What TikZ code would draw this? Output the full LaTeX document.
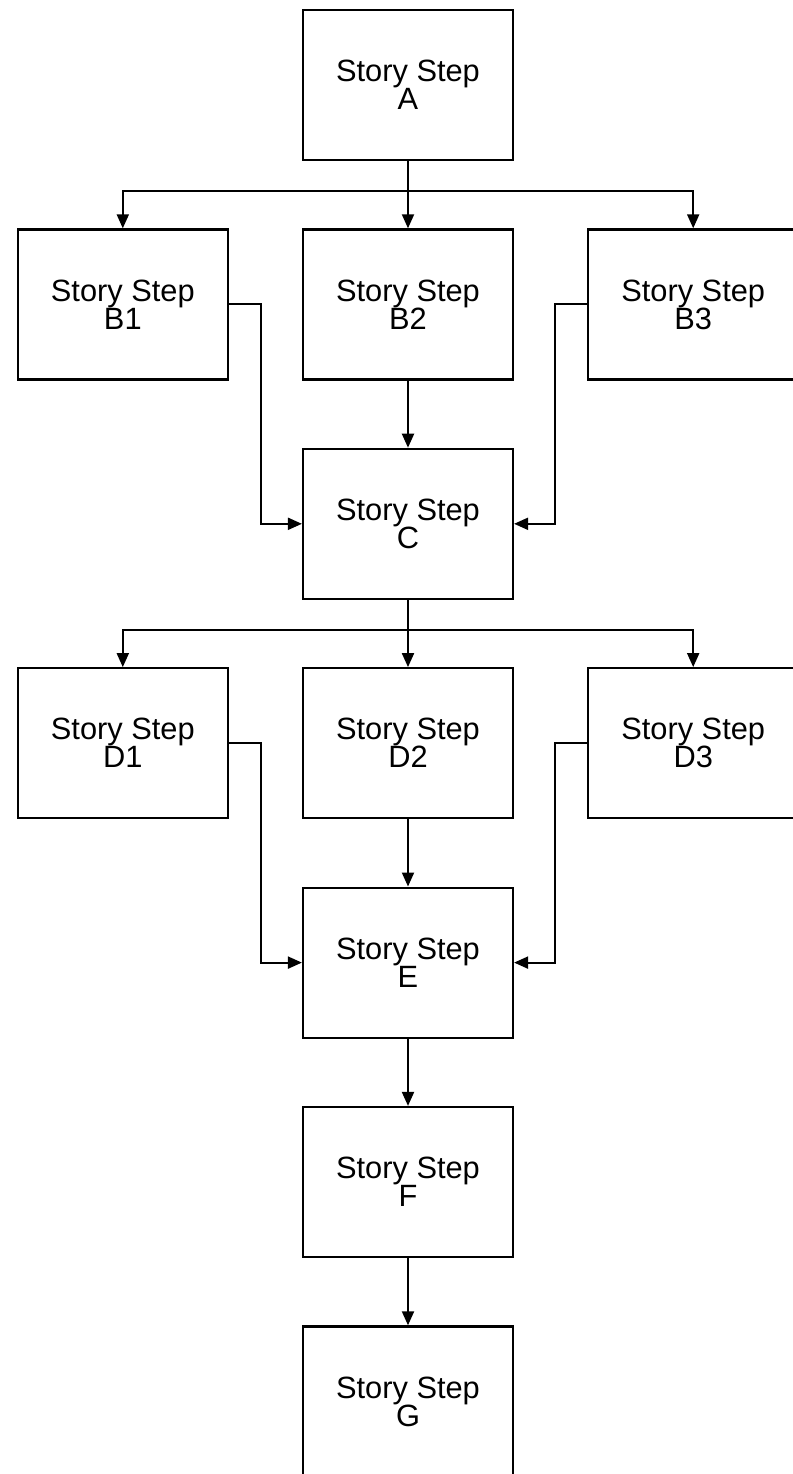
\documentclass[tikz,border=0pt]{standalone}
\usepackage{fontspec}
\setmainfont{Liberation Sans}
\usetikzlibrary{arrows.meta,positioning,calc}
\tikzset{
  >={Triangle[length=7pt,width=6pt]},
  storybox/.style={draw, line width=1.1pt, minimum width=105pt, minimum height=75pt, inner sep=0pt, align=center, font=\fontsize{15.4}{14}\selectfont},
  flow/.style={->, line width=1pt},
}

\begin{document}
\begin{tikzpicture}[node distance=33.6pt and 36.5pt]
  \clip (0,0) rectangle (396.5pt,-737pt);

  \node[storybox] (a) at (204pt,-42.5pt) {Story Step\\A};
  \node[storybox, below=of a] (b2) {Story Step\\B2};
  \node[storybox, left=of b2] (b1) {Story Step\\B1};
  \node[storybox, right=of b2] (b3) {Story Step\\B3};
  \node[storybox, below=of b2] (c) {Story Step\\C};
  \node[storybox, below=of c] (d2) {Story Step\\D2};
  \node[storybox, left=of d2] (d1) {Story Step\\D1};
  \node[storybox, right=of d2] (d3) {Story Step\\D3};
  \node[storybox, below=of d2] (e) {Story Step\\E};
  \node[storybox, below=of e] (f) {Story Step\\F};
  \node[storybox, below=of f] (g) {Story Step\\G};

  \coordinate (splitb) at ($(a.south)!0.45!(b2.north)$);
  \coordinate (splitd) at ($(c.south)!0.45!(d2.north)$);

  \draw[flow] (a) -- (b2);
  \draw[flow] (splitb) -| (b1.north);
  \draw[flow] (splitb) -| (b3.north);

  \draw[flow] (b2) -- (c);
  \draw[flow] (b1.east) -- ++(16pt,0) |- (c.west);
  \draw[flow] (b3.west) -- ++(-16pt,0) |- (c.east);

  \draw[flow] (c) -- (d2);
  \draw[flow] (splitd) -| (d1.north);
  \draw[flow] (splitd) -| (d3.north);

  \draw[flow] (d2) -- (e);
  \draw[flow] (d1.east) -- ++(16pt,0) |- (e.west);
  \draw[flow] (d3.west) -- ++(-16pt,0) |- (e.east);

  \draw[flow] (e) -- (f);
  \draw[flow] (f) -- (g);
\end{tikzpicture}
\end{document}
